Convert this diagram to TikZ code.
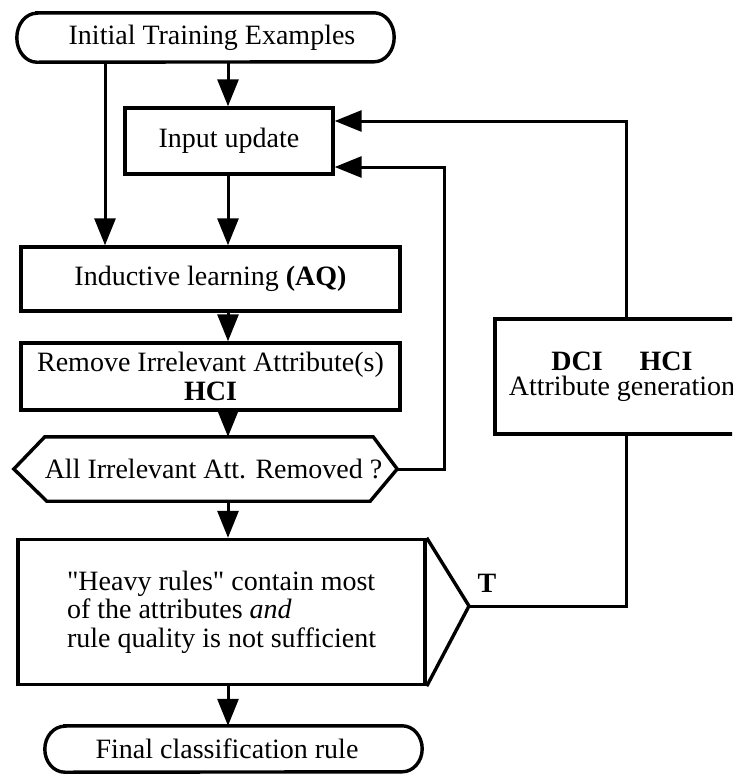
\documentclass[tikz,border=0pt]{standalone}
\usepackage{fontspec}
\setmainfont{Liberation Serif}
\newfontfamily\plainquotes{Liberation Serif}[Ligatures=TeXOff]
\newcommand{\dq}{{\plainquotes\symbol{34}}}
\usetikzlibrary{arrows.meta}
\begin{document}
\begin{tikzpicture}[x=1pt,y=-1pt,
  txt/.style={font=\fontsize{28}{25}\selectfont, inner sep=0pt},
  boxed/.style={txt, draw, line width=3.4pt, rectangle, align=center},
  outline/.style={draw, line width=3.4pt, line join=miter},
  link/.style={line width=3pt},
  arr/.style={link, -{Triangle[length=27pt,width=21pt]}},
]
\useasboundingbox (0,0) rectangle (732,774);
\clip (0,0) rectangle (732,774);

% columns used by the vertical connectors
\coordinate (colA) at (105,0);
\coordinate (colB) at (228,0);
\coordinate (innerx) at (444,0);
\coordinate (outerx) at (626,0);

% nodes
\node[txt, minimum width=377pt, minimum height=49pt] (start) at (205.5,37.5)
  {\hspace*{13pt}Initial Training Examples};
\node[boxed, minimum width=208pt, minimum height=66pt] (input) at (229,141)
  {Input update};
\node[boxed, minimum width=379pt, minimum height=64pt] (induct) at (210.5,279)
  {Inductive learning \textbf{(AQ)}};
\node[boxed, minimum width=379pt, minimum height=67pt,
      font=\fontsize{28}{29}\selectfont] (remove) at (210.5,376.5)
  {Remove Irrelevant Attribute(s)\\\textbf{HCI}};
\node[txt, minimum width=383pt, minimum height=64pt] (check) at (205.5,469)
  {\hspace*{16pt}All Irrelevant Att. Removed ?};
\node[boxed, minimum width=407pt, minimum height=145pt, align=left,
      font=\fontsize{28}{28.5}\selectfont] (heavy) at (221.5,612)
  {\dq Heavy rules\dq{} contain most\\of the attributes \textit{and}\\rule quality is not sufficient};
\coordinate (tip) at (469,606);
\node[txt, minimum width=377pt, minimum height=46pt] (final) at (233.5,749)
  {Final classification rule\hspace*{13pt}};
\node[boxed, minimum width=254pt, minimum height=115pt,
      font=\fontsize{28}{25}\selectfont] (attr) at (622,376.5)
  {\textbf{DCI}\hspace{37pt}\textbf{HCI}\\Attribute generation};
\node[txt, font=\fontsize{28}{25}\selectfont\bfseries] (T) at (487,583) {T};

% terminator outlines
\draw[outline] ([xshift=20pt]start.north west) -- ([xshift=-20pt]start.north east)
  arc[start angle=90, end angle=-90, x radius=20pt, y radius=24.5pt]
  -- ([xshift=20pt]start.south west)
  arc[start angle=270, end angle=90, x radius=20pt, y radius=24.5pt] -- cycle;
\draw[outline] ([xshift=20pt]final.north west) -- ([xshift=-20pt]final.north east)
  arc[start angle=90, end angle=-90, x radius=20pt, y radius=23pt]
  -- ([xshift=20pt]final.south west)
  arc[start angle=270, end angle=90, x radius=20pt, y radius=23pt] -- cycle;

% decision hexagon
\draw[outline] (check.west) -- ([xshift=31pt]check.north west)
  -- ([xshift=-24pt]check.north east) -- (check.east)
  -- ([xshift=-27pt]check.south east) -- ([xshift=33pt]check.south west) -- cycle;

% pointed side of the condition box
\draw[outline] (heavy.north east) -- (tip) -- (heavy.south east);

% main flow
\draw[arr] (start.south -| colB) -- (input.north -| colB);
\draw[arr] (start.south -| colA) -- (induct.north -| colA);
\draw[arr] (input.south -| colB) -- (induct.north -| colB);
\draw[arr] (induct.south -| colB) -- (remove.north -| colB);
\draw[arr] (remove.south -| colB) -- (check.north -| colB);
\draw[arr] (check.south -| colB) -- (heavy.north -| colB);
\draw[arr] (heavy.south -| colB) -- (final.north -| colB);

% feedback loops
\draw[arr] (check.east) -- (check.east -| innerx) |- ([yshift=-26pt]input.east);
\draw[arr] (attr.north -| outerx) |- ([yshift=20pt]input.east);
\draw[link] (tip) -| (attr.south -| outerx);
\end{tikzpicture}
\end{document}
